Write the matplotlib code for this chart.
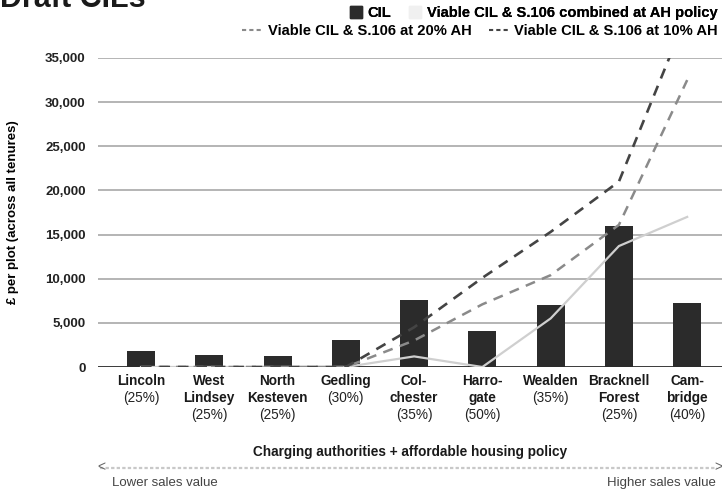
import matplotlib
matplotlib.use("Agg")
import matplotlib.pyplot as plt
import matplotlib.transforms as mtransforms
from matplotlib.lines import Line2D
from matplotlib.patches import Patch

plt.rcParams["font.family"] = ["Liberation Sans", "DejaVu Sans"]

# ── Data ──────────────────────────────────────────────────────────────────────
AUTHORITIES = ["Lincoln", "West\nLindsey", "North\nKesteven", "Gedling", "Col-\nchester",
               "Harro-\ngate", "Wealden", "Bracknell\nForest", "Cam-\nbridge"]
AH_POLICY   = ["(25%)", "(25%)", "(25%)", "(30%)", "(35%)", "(50%)", "(35%)", "(25%)", "(40%)"]

CIL         = [1800, 1400, 1300, 3100, 7600, 4100, 7000, 16000, 7300]
VIABLE_POL  = [0, 0, 0, 0, 1200, 0, 5500, 13700, 17000]
VIABLE_20   = [0, 0, 0, 0, 3000, 7100, 10400, 16100, 32500]
VIABLE_10   = [0, 0, 0, 0, 4500, 10100, 15300, 21000, 40000]

Y_TICKS = [0, 5000, 10000, 15000, 20000, 25000, 30000, 35000]

C_BAR  = "#2b2b2b"
C_POL  = "#cfcfcf"
C_20   = "#8a8a8a"
C_10   = "#444444"
C_GRID = "#a8a8a8"

fig = plt.figure(figsize=(7.22, 4.95), dpi=100)
ax = fig.add_axes([98 / 722, 1 - 367 / 495, 1 - 98 / 722, (367 - 58) / 495])

x = list(range(len(AUTHORITIES)))
ax.bar(x, CIL, width=0.41, color=C_BAR, zorder=3)
ax.plot(x, VIABLE_POL, "-", color=C_POL, lw=1.6, zorder=4)
ax.plot(x, VIABLE_20, color=C_20, lw=1.8, dashes=(4, 3), zorder=4)
ax.plot(x, VIABLE_10, color=C_10, lw=1.9, dashes=(4, 3), zorder=5)

ax.set_xlim(-0.63, 8.51)
ax.set_ylim(0, 35000)
ax.set_yticks(Y_TICKS)
ax.set_yticklabels([f"{v:,}" for v in Y_TICKS], fontsize=9.5, fontweight="bold", color="#222")
ax.tick_params(axis="y", length=0, pad=9)
ax.set_xticks([])
for s in ax.spines.values():
    s.set_visible(False)
ax.grid(True, axis="y", color=C_GRID, lw=1.2, zorder=0)
ax.axhline(0, color="#333333", lw=1.3, zorder=2)

ax.set_ylabel("£ per plot (across all tenures)", fontsize=9.5, fontweight="bold")
ax.yaxis.set_label_coords((19 - 98) / 624, 0.5)

# category labels: bold name lines, regular policy line
trans = mtransforms.blended_transform_factory(ax.transData, fig.transFigure)
row_y = [381, 398, 415]
for i, (name, pol) in enumerate(zip(AUTHORITIES, AH_POLICY)):
    lines = name.split("\n")
    for j, ln in enumerate(lines):
        ax.text(i, 1 - row_y[j] / 495, ln, transform=trans, ha="center", va="center",
                fontsize=9.8, fontweight="bold", color="#1a1a1a")
    ax.text(i, 1 - row_y[len(lines)] / 495, pol, transform=trans, ha="center", va="center",
            fontsize=9.8, color="#222")

fig.text(410 / 722, 1 - 452 / 495, "Charging authorities + affordable housing policy",
         ha="center", va="center", fontsize=9.8, fontweight="bold", color="#1a1a1a")

# sales value arrow
fig.add_artist(plt.Line2D([100 / 722, 717 / 722], [1 - 468 / 495] * 2, transform=fig.transFigure,
                          color="#c8c8c8", lw=1.6, ls=(0, (1.5, 1))))
fig.text(97 / 722, 1 - 467 / 495, "<", ha="left", va="center", fontsize=10, color="#666")
fig.text(722 / 722, 1 - 467 / 495, ">", ha="right", va="center", fontsize=10, color="#666")
fig.text(112 / 722, 1 - 483 / 495, "Lower sales value", ha="left", va="center",
         fontsize=9.5, color="#444")
fig.text(716 / 722, 1 - 483 / 495, "Higher sales value", ha="right", va="center",
         fontsize=9.5, color="#444")

# title (cut off by top edge, as in the source)
fig.text(0.0, 1 - 7 / 495, "Draft CILs", ha="left", va="baseline",
         fontsize=22, fontweight="bold", color="#1a1a1a")

# legends
leg1 = fig.legend(handles=[Patch(color=C_BAR, label="CIL"),
                           Patch(color="#f0f0f0", label="Viable CIL & S.106 combined at AH policy")],
                  loc="center right", bbox_to_anchor=(1.0, 1 - 13 / 495), ncol=2, frameon=False,
                  prop={"weight": "bold", "size": 10.6}, handlelength=0.8, handleheight=0.8,
                  handletextpad=0.4, columnspacing=1.2, borderpad=0, borderaxespad=0.3)
fig.add_artist(leg1)
fig.legend(handles=[Line2D([], [], color=C_20, lw=1.5, dashes=(2, 1.5),
                           label="Viable CIL & S.106 at 20% AH"),
                    Line2D([], [], color=C_10, lw=1.5, dashes=(2, 1.5),
                           label="Viable CIL & S.106 at 10% AH")],
           loc="center right", bbox_to_anchor=(1.0, 1 - 31 / 495), ncol=2, frameon=False,
           prop={"weight": "bold", "size": 10.6}, handlelength=1.3,
           handletextpad=0.4, columnspacing=1.2, borderpad=0, borderaxespad=0.3)

fig.savefig("out.png", dpi=100)
